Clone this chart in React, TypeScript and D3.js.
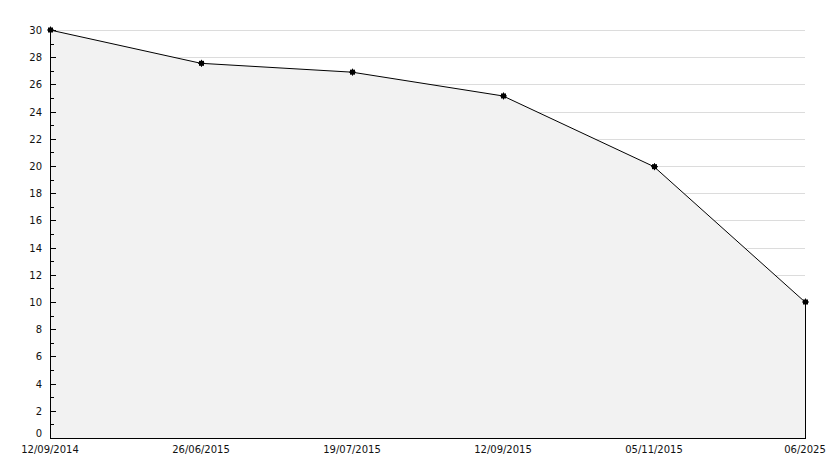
import React from "react";
import * as d3 from "d3";

const categories = ["12/09/2014", "26/06/2015", "19/07/2015", "12/09/2015", "05/11/2015", "06/2025"];
const values = [30, 27.55, 26.9, 25.15, 19.95, 10];
const yTicks = d3.range(0, 31, 2);
const yMinor = d3.range(1, 30, 2);

export default function App() {
  const W = 834, H = 468;
  const left = 50, right = 805, top = 30, bottom = 438;
  const x = d3.scalePoint<string>().domain(categories).range([left, right]);
  const y = d3.scaleLinear().domain([0, 30]).range([bottom, top]);
  const pts: [number, number][] = categories.map((c, i) => [x(c)!, y(values[i])]);
  const area = d3.area<[number, number]>().x(d => d[0]).y0(y(0)).y1(d => d[1]);
  const line = d3.line<[number, number]>().x(d => d[0]).y(d => d[1]);
  const font = "'DejaVu Sans', Verdana, sans-serif";
  return (
    <svg width={W} height={H} style={{ position: "absolute", left: 0, top: 0, background: "#fff" }}>
      {yTicks.filter(t => t > 0).map(t => (
        <line key={"g" + t} x1={left} x2={right} y1={Math.round(y(t)) + 0.5} y2={Math.round(y(t)) + 0.5} stroke="#dcdcdc" strokeWidth={1} />
      ))}
      <path d={area(pts)!} fill="#f2f2f2" />
      {yTicks.filter(t => t > 0).map(t => (
        <line key={"g2" + t} x1={left} x2={right} y1={Math.round(y(t)) + 0.5} y2={Math.round(y(t)) + 0.5} stroke="#dcdcdc" strokeWidth={1} opacity={0} />
      ))}
      <path d={line(pts)!} fill="none" stroke="#000" strokeWidth={1} />
      <line x1={right + 0.5} x2={right + 0.5} y1={pts[pts.length - 1][1]} y2={bottom} stroke="#000" />
      <line x1={left} x2={right + 1} y1={bottom + 0.5} y2={bottom + 0.5} stroke="#000" />
      <line x1={left + 0.5} x2={left + 0.5} y1={top} y2={bottom + 1} stroke="#000" />
      {yTicks.map(t => (
        <line key={"t" + t} x1={left} x2={left + 6} y1={Math.round(y(t)) + 0.5} y2={Math.round(y(t)) + 0.5} stroke="#000" />
      ))}
      {yMinor.map(t => (
        <line key={"m" + t} x1={left} x2={left + 4} y1={Math.round(y(t)) + 0.5} y2={Math.round(y(t)) + 0.5} stroke="#000" />
      ))}
      {yTicks.map(t => (
        <text key={"l" + t} x={42} y={t === 0 ? y(t) - 1 : y(t) + 4} textAnchor="end" fontFamily={font} fontSize={10} fill="#111">{t}</text>
      ))}
      {categories.map(c => (
        <text key={"c" + c} x={x(c)!} y={bottom + 15} textAnchor="middle" fontFamily={font} fontSize={10} fill="#111">{c}</text>
      ))}
      {pts.map((p, i) => (
        <g key={"p" + i} transform={`translate(${p[0] + 0.5},${p[1]})`}>
          <rect x={-2.5} y={-2.5} width={5} height={5} fill="#000" />
          <line x1={-3.5} x2={3.5} y1={0} y2={0} stroke="#000" />
          <line x1={0} x2={0} y1={-3.5} y2={3.5} stroke="#000" />
        </g>
      ))}
    </svg>
  );
}
